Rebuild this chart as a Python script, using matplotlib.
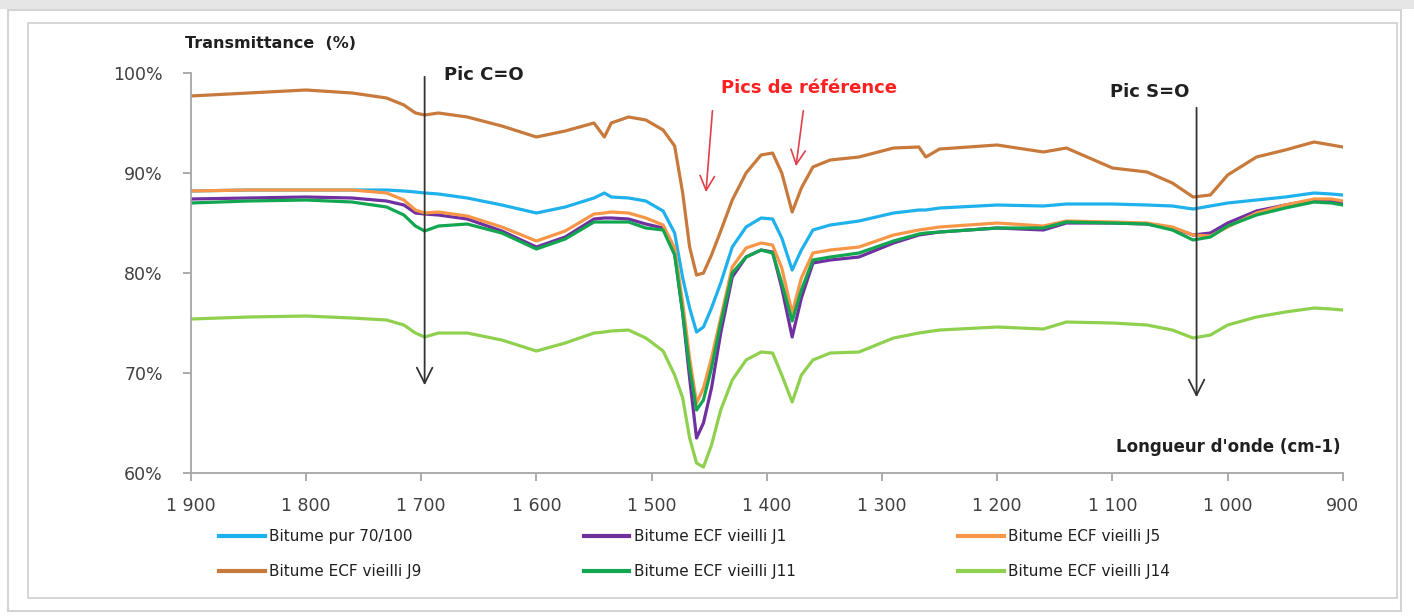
import numpy as np
import matplotlib.pyplot as plt
from matplotlib.patches import Rectangle
from matplotlib.ticker import FuncFormatter

# Wavenumbers (cm-1) at which the curves were read
wavenumber = [1900, 1850, 1800, 1760, 1730, 1715, 1705, 1697, 1685, 1660,
              1630, 1600, 1575, 1550, 1541, 1535, 1520, 1505, 1490, 1480,
              1473, 1467, 1461, 1455, 1448, 1440, 1430, 1418, 1405, 1395,
              1387, 1378, 1370, 1360, 1345, 1320, 1290, 1268, 1262, 1250,
              1200, 1160, 1140, 1100, 1070, 1048, 1030, 1015, 1000, 975,
              950, 925, 910, 900]

# Transmittance (%) per sample
pur = [88.2, 88.3, 88.3, 88.3, 88.3, 88.2, 88.1, 88.0, 87.9, 87.5,
       86.8, 86.0, 86.6, 87.5, 88.0, 87.6, 87.5, 87.2, 86.2, 84.0,
       79.5, 76.5, 74.1, 74.6, 76.5, 79.0, 82.6, 84.6, 85.5, 85.4,
       83.5, 80.3, 82.3, 84.3, 84.8, 85.2, 86.0, 86.3, 86.3, 86.5,
       86.8, 86.7, 86.9, 86.9, 86.8, 86.7, 86.4, 86.7, 87.0, 87.3,
       87.6, 88.0, 87.9, 87.8]
j1 = [87.4, 87.5, 87.6, 87.5, 87.2, 86.8, 86.0, 85.9, 85.8, 85.4,
      84.2, 82.6, 83.6, 85.4, 85.5, 85.5, 85.4, 84.9, 84.5, 82.0,
      76.0, 69.5, 63.5, 65.0, 68.5, 74.0, 79.6, 81.6, 82.3, 82.1,
      78.5, 73.6, 77.5, 81.0, 81.3, 81.6, 83.0, 83.8, 83.9, 84.1,
      84.5, 84.3, 85.0, 85.0, 84.9, 84.5, 83.8, 84.0, 85.0, 86.2,
      86.8, 87.3, 87.2, 87.0]
j5 = [88.2, 88.3, 88.3, 88.3, 88.0, 87.3, 86.3, 86.0, 86.1, 85.7,
      84.6, 83.2, 84.2, 85.9, 86.0, 86.1, 86.0, 85.5, 84.8, 82.5,
      77.0, 71.5, 67.0, 68.5, 71.5, 75.5, 80.6, 82.5, 83.0, 82.8,
      80.5, 76.0, 79.5, 82.0, 82.3, 82.6, 83.8, 84.3, 84.4, 84.6,
      85.0, 84.7, 85.2, 85.1, 85.0, 84.6, 83.8, 83.7, 84.6, 86.0,
      86.8, 87.4, 87.4, 87.2]
j9 = [97.7, 98.0, 98.3, 98.0, 97.5, 96.8, 96.0, 95.8, 96.0, 95.6,
      94.7, 93.6, 94.2, 95.0, 93.6, 95.0, 95.6, 95.3, 94.3, 92.7,
      88.0, 82.6, 79.8, 80.0, 81.8, 84.2, 87.3, 90.0, 91.8, 92.0,
      90.0, 86.1, 88.5, 90.6, 91.3, 91.6, 92.5, 92.6, 91.6, 92.4,
      92.8, 92.1, 92.5, 90.5, 90.1, 89.0, 87.6, 87.8, 89.8, 91.6,
      92.3, 93.1, 92.8, 92.6]
j11 = [87.0, 87.2, 87.3, 87.1, 86.6, 85.8, 84.7, 84.2, 84.7, 84.9,
       84.0, 82.4, 83.4, 85.1, 85.1, 85.1, 85.1, 84.5, 84.3, 81.8,
       76.0, 70.5, 66.3, 67.3, 70.5, 75.0, 80.0, 81.6, 82.3, 82.0,
       79.0, 75.2, 78.3, 81.3, 81.6, 82.0, 83.2, 83.9, 84.0, 84.1,
       84.5, 84.5, 85.1, 85.0, 84.9, 84.3, 83.3, 83.6, 84.7, 85.8,
       86.5, 87.1, 87.0, 86.8]
j14 = [75.4, 75.6, 75.7, 75.5, 75.3, 74.8, 74.0, 73.6, 74.0, 74.0,
       73.3, 72.2, 73.0, 74.0, 74.1, 74.2, 74.3, 73.5, 72.2, 69.8,
       67.5, 63.5, 61.0, 60.6, 62.8, 66.3, 69.3, 71.3, 72.1, 72.0,
       69.8, 67.1, 69.8, 71.3, 72.0, 72.1, 73.5, 74.0, 74.1, 74.3,
       74.6, 74.4, 75.1, 75.0, 74.8, 74.3, 73.5, 73.8, 74.8, 75.6,
       76.1, 76.5, 76.4, 76.3]

labels = ["Bitume pur 70/100", "Bitume ECF vieilli J1", "Bitume ECF vieilli J5",
          "Bitume ECF vieilli J9", "Bitume ECF vieilli J11", "Bitume ECF vieilli J14"]
colors = ["#1EB1EC", "#7030A0", "#F79646", "#C87A3C", "#12A650", "#8FD14F"]
series = [pur, j1, j5, j9, j11, j14]

fig = plt.figure(figsize=(14.14, 6.16), dpi=100)
fig.patch.set_facecolor("white")

# page-like frame around the chart (drawn behind the axes)
frame = [Rectangle((0, 0.985), 1, 0.015, facecolor="#E6E6E6", edgecolor="none"),
         Rectangle((0.006, 0.008), 0.985, 0.975, facecolor="none",
                   edgecolor="#D4D4D4", lw=1.5),
         Rectangle((0.020, 0.030), 0.968, 0.932, facecolor="white",
                   edgecolor="#D0D0D0", lw=1.2)]
for r in frame:
    r.set_transform(fig.transFigure)
    r.set_zorder(-10)
    fig.patches.append(r)

ax = fig.add_axes([0.1349, 0.2321, 0.8148, 0.6494])
ax.set_facecolor("none")

x = np.array(wavenumber)
handles = []
for vals, lab, col in zip(series, labels, colors):
    line, = ax.plot(x, vals, color=col, lw=2.3, label=lab, solid_joinstyle="round")
    handles.append(line)

ax.set_xlim(1900, 900)
ax.set_ylim(60, 100)
ax.set_xticks(np.arange(1900, 899, -100))
ax.set_yticks(np.arange(60, 101, 10))
ax.xaxis.set_major_formatter(FuncFormatter(lambda v, p: f"{int(v):,}".replace(",", " ")))
ax.yaxis.set_major_formatter(FuncFormatter(lambda v, p: f"{int(v)}%"))

for side in ["top", "right"]:
    ax.spines[side].set_visible(False)
for side in ["left", "bottom"]:
    ax.spines[side].set_color("#A6A6A6")
    ax.spines[side].set_linewidth(1.3)
ax.tick_params(axis="both", colors="#A6A6A6", labelcolor="#404040",
               labelsize=12.5, length=6, width=1.3, direction="out")
ax.tick_params(axis="x", pad=11)
ax.tick_params(axis="y", pad=14)

# axis titles
fig.text(185 / 1414, 1 - 43 / 616, "Transmittance  (%)", fontsize=11.5,
         fontweight="bold", color="#202020", ha="left", va="center")
fig.text(1340 / 1414, 1 - 447 / 616, "Longueur d'onde (cm-1)",
         fontsize=12, fontweight="bold", color="#202020", ha="right", va="center")

# peak annotations
ax.text(1680, 99.8, "Pic C=O", fontsize=13, fontweight="bold", color="#202020",
        ha="left", va="center")
ax.annotate("", xy=(1697, 68.5), xytext=(1697, 99.9),
            arrowprops=dict(arrowstyle="->", color="#333333", lw=1.3,
                            mutation_scale=28))
ax.text(1068, 98.1, "Pic S=O", fontsize=13, fontweight="bold", color="#202020",
        ha="center", va="center")
ax.annotate("", xy=(1027, 67.3), xytext=(1027, 96.8),
            arrowprops=dict(arrowstyle="->", color="#333333", lw=1.3,
                            mutation_scale=28))
ax.text(1363, 98.5, "Pics de référence", fontsize=13, fontweight="bold",
        color="#FF2020", ha="center", va="center")
ax.annotate("", xy=(1453, 87.8), xytext=(1447, 96.5),
            arrowprops=dict(arrowstyle="->", color="#E0404A", lw=1.2,
                            mutation_scale=26))
ax.annotate("", xy=(1375, 90.4), xytext=(1368, 96.5),
            arrowprops=dict(arrowstyle="->", color="#E0404A", lw=1.2,
                            mutation_scale=26))

# legend filled row by row (matplotlib fills by column)
order = [0, 3, 1, 4, 2, 5]
leg = fig.legend([handles[i] for i in order], [labels[i] for i in order],
                 loc="center left", bbox_to_anchor=(0.145, 0.1), ncol=3, frameon=False,
                 fontsize=11, handlelength=3.0, handletextpad=0.3,
                 columnspacing=10.6, labelspacing=1.3)
for t in leg.get_texts():
    t.set_color("#202020")
for h in leg.get_lines():
    h.set_linewidth(3)

fig.savefig("out.png", dpi=100, facecolor=fig.get_facecolor())
